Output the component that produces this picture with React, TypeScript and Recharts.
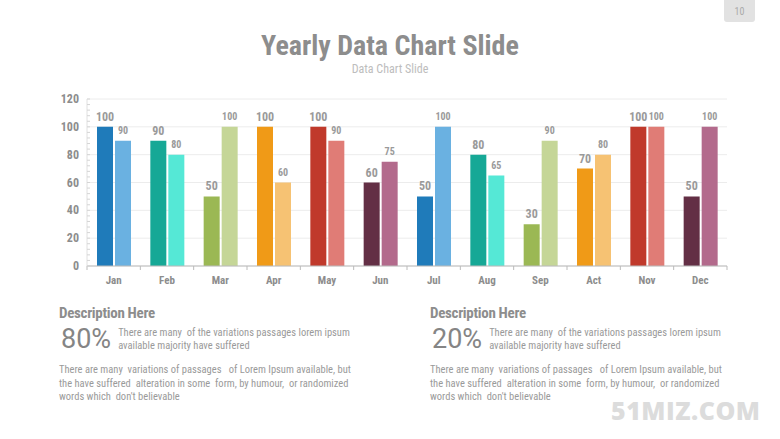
import React from "react";
import { Bar, BarChart, CartesianGrid, Cell, LabelList, XAxis, YAxis } from "recharts";

const months = ["Jan", "Feb", "Mar", "Apr", "May", "Jun", "Jul", "Aug", "Sep", "Act", "Nov", "Dec"];
const firstValues = [100, 90, 50, 100, 100, 60, 50, 80, 30, 70, 100, 50];
const secondValues = [90, 80, 100, 60, 90, 75, 100, 65, 90, 80, 100, 100];
const darkColors = ["#1f7bba", "#16a896", "#9bb854", "#f09a17", "#c0392b", "#632f45", "#1f7bba", "#16a896", "#9bb854", "#f09a17", "#c0392b", "#632f45"];
const lightColors = ["#6ab1e1", "#55e8d6", "#c5d697", "#f6c273", "#e07c76", "#b36a8c", "#6ab1e1", "#55e8d6", "#c5d697", "#f6c273", "#e07c76", "#b36a8c"];
const majorTicks = [0, 20, 40, 60, 80, 100, 120];
const minorTicks = [0, 4, 8, 12, 16, 20, 24, 28, 32, 36, 40, 44, 48, 52, 56, 60, 64, 68, 72, 76, 80, 84, 88, 92, 96, 100, 104, 108, 112, 116, 120];

const data = months.map((m, i) => ({ month: m, a: firstValues[i], b: secondValues[i] }));

const CHART_W = 780;
const MARGIN = { top: 99, right: 53, bottom: 4, left: 0 };
const Y_W = 87;
const PLOT_W = CHART_W - MARGIN.left - MARGIN.right - Y_W;
const FONT = "'Liberation Sans Narrow', 'Roboto Condensed', Roboto, sans-serif";
const GRAY = "#8d8d8d";

const YTick = (props: any) => {
  const { x, y, payload } = props;
  return (
    <g>
      <line x1={x + 8} x2={x + 11} y1={y} y2={y} stroke="#d5d5d5" />
      {payload.value % 20 === 0 && (
        <text x={x} y={y} dy={4} textAnchor="end" fill={GRAY} fontSize={12} fontWeight="bold" fontFamily={FONT}>
          {payload.value}
        </text>
      )}
    </g>
  );
};

const XTick = (props: any) => {
  const { x, y, payload, index } = props;
  const band = PLOT_W / months.length;
  return (
    <g>
      <line x1={x - band / 2} x2={x - band / 2} y1={y - 10} y2={y - 6} stroke="#bbb" />
      {index === months.length - 1 && (
        <line x1={x + band / 2} x2={x + band / 2} y1={y - 10} y2={y - 6} stroke="#bbb" />
      )}
      <text x={x} y={y} dy={8} textAnchor="middle" fill={GRAY} fontSize={11} fontWeight="bold" fontFamily={FONT}>
        {payload.value}
      </text>
    </g>
  );
};

function Description({ left, pct }: { left: number; pct: string }) {
  return (
    <div style={{ position: "absolute", left, top: 304, width: 320, color: "#9a9a9a", fontFamily: FONT }}>
      <div style={{ fontSize: 15, fontWeight: "bold", color: GRAY, letterSpacing: -0.3 }}>Description Here</div>
      <div style={{ display: "flex", alignItems: "center", marginTop: 1 }}>
        <div style={{ fontSize: 27, color: "#858585", fontFamily: "Roboto, sans-serif", lineHeight: "32px", marginLeft: 2 }}>{pct}</div>
        <div style={{ fontSize: 10.5, lineHeight: "13px", marginLeft: 7 }}>
          There are many &nbsp;of the variations passages lorem ipsum
          <br />
          available majority have suffered
        </div>
      </div>
      <div style={{ fontSize: 10.5, lineHeight: "13.5px", marginTop: 8 }}>
        There are many &nbsp;variations of passages &nbsp; of Lorem Ipsum available, but
        <br />
        the have suffered &nbsp;alteration in some &nbsp;form, by humour, &nbsp;or randomized
        <br />
        words which &nbsp;don't believable
      </div>
    </div>
  );
}

export default function App() {
  return (
    <div style={{ position: "fixed", left: 0, top: 0, width: 780, height: 439, background: "#fff", overflow: "hidden" }}>
      <div
        style={{
          position: "absolute", left: 724, top: 0, width: 31, height: 22, background: "#e2e2e2",
          borderRadius: "0 0 3px 3px", color: "#aaa", fontSize: 10, textAlign: "center", lineHeight: "24px", fontFamily: FONT,
        }}
      >
        10
      </div>
      <div style={{ position: "absolute", left: 0, top: 29, width: 780, textAlign: "center", fontFamily: FONT, fontWeight: "bold", fontSize: 28, color: GRAY }}>
        Yearly Data Chart Slide
      </div>
      <div style={{ position: "absolute", left: 0, top: 62, width: 780, textAlign: "center", fontFamily: FONT, fontSize: 12, color: "#bdbdbd" }}>
        Data Chart Slide
      </div>
      <div style={{ position: "absolute", left: 0, top: 0 }}>
        <BarChart width={CHART_W} height={300} data={data} margin={MARGIN} barSize={16} barGap={2}>
          <CartesianGrid vertical={false} stroke="#ececec" horizontalValues={majorTicks} />
          <XAxis
            dataKey="month"
            height={30}
            interval={0}
            tickSize={0}
            tickMargin={10}
            tickLine={false}
            stroke="#bbb"
            tick={<XTick />}
          />
          <YAxis
            width={Y_W}
            domain={[0, 120]}
            ticks={minorTicks}
            interval={0}
            tickSize={0}
            tickMargin={8}
            tickLine={false}
            stroke="#e0e0e0"
            tick={<YTick />}
          />
          <Bar dataKey="a" isAnimationActive={false}>
            {data.map((_, i) => (
              <Cell key={i} fill={darkColors[i]} />
            ))}
            <LabelList dataKey="a" position="top" offset={6} fill="#9a9a9a" fontSize={12} fontWeight="bold" fontFamily={FONT} />
          </Bar>
          <Bar dataKey="b" isAnimationActive={false}>
            {data.map((_, i) => (
              <Cell key={i} fill={lightColors[i]} />
            ))}
            <LabelList dataKey="b" position="top" offset={7} fill="#9a9a9a" fontSize={10} fontWeight="bold" fontFamily={FONT} />
          </Bar>
        </BarChart>
      </div>
      <Description left={59} pct="80%" />
      <Description left={430} pct="20%" />
      <div style={{ position: "absolute", left: 611, top: 393, fontFamily: "'Open Sans', sans-serif", fontWeight: 800, fontSize: 25, color: "#dcdcdc", letterSpacing: 0.5 }}>
        51MIZ.COM
      </div>
    </div>
  );
}
